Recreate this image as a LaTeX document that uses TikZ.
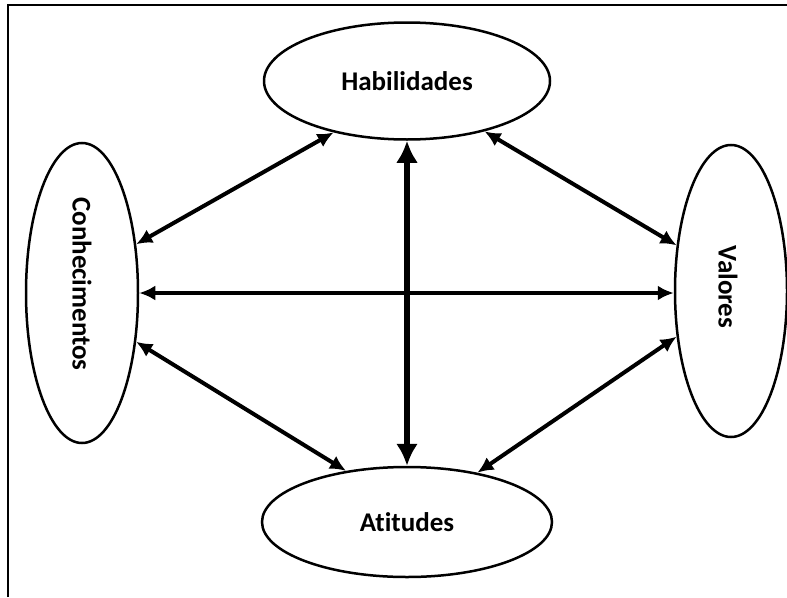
\documentclass[tikz,border=0pt]{standalone}
\usepackage{fontspec}
\setmainfont{Carlito}[Ligatures=NoCommon]
\usetikzlibrary{positioning,shapes.geometric,arrows.meta}

\tikzset{
  oval/.style={ellipse, draw, line width=2.5pt, inner sep=0pt},
  lbl/.style={font=\bfseries\fontsize{27}{31}\selectfont},
  link/.style={{Latex[length=16pt,width=15pt]}-{Latex[length=16pt,width=15pt]}, line width=4pt},
  trunk/.style={{Latex[length=22pt,width=22pt]}-{Latex[length=22pt,width=22pt]}, line width=6pt}
}

\begin{document}
\begin{tikzpicture}[x=1pt,y=-1pt]
\useasboundingbox (0,0) rectangle (787,597);
% frame
\coordinate (tl) at (8,5);
\draw [line width = 2.5pt] (8,597) -- (tl) -- (787,5);
% the four ellipses
\node[oval, minimum width=286pt, minimum height=117pt] (hab) at (407,81) {};
\node[lbl] (habtxt) at (hab) {Habilidades};
\node[oval, minimum width=112pt, minimum height=300pt] (con) at (82,293) {};
\node[lbl, rotate=-90] (contxt) at (82,284) {Conhecimentos};
\node[oval, minimum width=112pt, minimum height=292pt] (val) at (731,291) {};
\node[lbl, rotate=-90] (valtxt) at (728,287) {Valores};
\node[oval, minimum width=290pt, minimum height=110pt] (ati) at (407,522) {};
\node[lbl] (atitxt) at (ati) {Atitudes};
% arrows
\draw [trunk] (hab.south) -- (ati.north);
\draw [link] (con.east) -- (con.east -| val.west);
\draw [link] (con.42) -- (hab.215);
\draw [link] (hab.-33) -- (val.140);
\draw [link] (con.-42) -- (ati.140);
\draw [link] (ati.35) -- (val.-140);
\end{tikzpicture}
\end{document}
